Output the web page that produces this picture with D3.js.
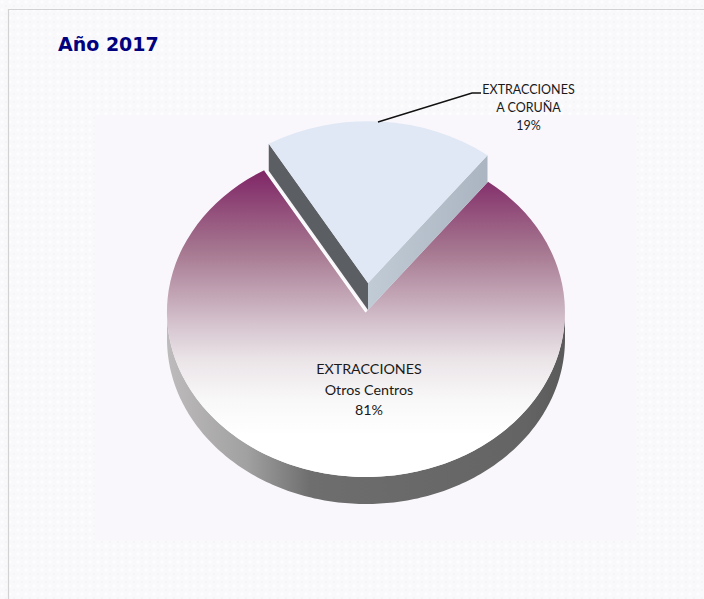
<!DOCTYPE html>
<meta charset="utf-8">
<style>
  html, body { margin: 0; padding: 0; background: #fff; }
  svg { display: block; }
</style>
<script src="https://d3js.org/d3.v7.min.js"></script>
<div id="chart"></div>
<script>
// values
var categories = ["EXTRACCIONES A CORUÑA", "EXTRACCIONES Otros Centros"];
var values = [19, 81];
var sliceLabel = ["EXTRACCIONES", "A CORUÑA", "19%"];
var restLabel = ["EXTRACCIONES", "Otros Centros", "81%"];
var title = "Año 2017";

var width = 704, height = 599;

// pie geometry, flattened circle
var cx = 366, cy = 312, rx = 199, ry = 165, depth = 27;
var explodeX = 2, explodeY = -29, sliceScale = 0.98;
var startDeg = -30.6;

var svg = d3.select("#chart").append("svg")
  .attr("width", width)
  .attr("height", height);

var defs = svg.append("defs");

// dotted page background
var dots = defs.append("pattern")
  .attr("id", "dots")
  .attr("width", 8).attr("height", 8)
  .attr("patternUnits", "userSpaceOnUse");
dots.append("rect").attr("width", 8).attr("height", 8).attr("fill", "#f9f8fa");
dots.append("circle").attr("cx", 2).attr("cy", 2).attr("r", 1.8).attr("fill", "#fdfdfe");
dots.append("circle").attr("cx", 6).attr("cy", 6).attr("r", 1).attr("fill", "#f5f3f6");

function gradient(id, x1, y1, x2, y2, stops) {
  var g = defs.append("linearGradient")
    .attr("id", id)
    .attr("gradientUnits", "userSpaceOnUse")
    .attr("x1", x1).attr("y1", y1).attr("x2", x2).attr("y2", y2);
  stops.forEach(function(s) {
    g.append("stop").attr("offset", s[0]).attr("stop-color", s[1]);
  });
}

// the top path is drawn inside a scaled transform, so y here is in pie units
gradient("topFill", 0, (170 - cy) / ry, 0, (435 - cy) / ry, [
  [0, "#7f2566"], [0.3, "#a5768f"], [0.6, "#d8c8d2"], [0.72, "#ebe5e8"], [0.87, "#f9f8f9"], [1, "#ffffff"]
]);
gradient("wallFill", cx - rx, 0, cx + rx, 0, [
  [0, "#bdbbbc"], [0.2, "#a2a1a2"], [0.36, "#6e6e6e"], [0.9, "#646464"], [1, "#5a5a5a"]
]);
gradient("rightFace", 368, 0, 487, 0, [[0, "#c0cbd6"], [1, "#aab5c1"]]);

// background and frame
svg.append("rect").attr("width", width).attr("height", height).attr("fill", "url(#dots)");
svg.append("rect").attr("x", 95).attr("y", 115).attr("width", 541).attr("height", 425).attr("fill", "#faf7fc");
svg.append("path").attr("d", "M8.5," + height + "V9.5H" + width)
  .attr("fill", "none").attr("stroke", "#d2d2d2").attr("stroke-width", 1.2);

var pie = d3.pie().sort(null)
  .startAngle(startDeg * Math.PI / 180)
  .endAngle((startDeg + 360) * Math.PI / 180);
var arcs = pie(values);
var slice = arcs[0], rest = arcs[1];

var sx = d3.scaleLinear().domain([-1, 1]).range([cx - rx, cx + rx]);
var sy = d3.scaleLinear().domain([-1, 1]).range([cy - ry, cy + ry]);

function px(a) { return sx(Math.sin(a)); }
function py(a) { return sy(-Math.cos(a)); }

// side wall of the big piece, only the front half shows
var front = d3.range(90, 270.5, 1).map(function(d) { return d * Math.PI / 180; });
var wall = d3.line()(
  front.map(function(a) { return [px(a), py(a)]; })
    .concat(front.slice().reverse().map(function(a) { return [px(a), py(a) + depth]; }))
);
svg.append("path").attr("d", wall).attr("fill", "url(#wallFill)");

// top of the big piece
var arc = d3.arc().innerRadius(0).outerRadius(1);
svg.append("path")
  .attr("d", arc(rest))
  .attr("transform", "translate(" + cx + "," + cy + ") scale(" + rx + "," + ry + ")")
  .attr("fill", "url(#topFill)");

// white edge of the notch
svg.append("path")
  .attr("d", d3.line()([[px(rest.endAngle), py(rest.endAngle)], [cx, cy]]))
  .attr("fill", "none").attr("stroke", "#fff").attr("stroke-width", 1.5);

// pulled out piece: two cut faces and its top
var apex = [cx + explodeX, cy + explodeY];
function rim(a) {
  return [apex[0] + (px(a) - cx) * sliceScale, apex[1] + (py(a) - cy) * sliceScale];
}
var left = rim(slice.startAngle);
var right = rim(slice.endAngle);
function face(p) {
  return d3.line()([p, apex, [apex[0], apex[1] + depth], [p[0], p[1] + depth]]) + "Z";
}
svg.append("path").attr("d", face(left)).attr("fill", "#5b5e62");
svg.append("path").attr("d", face(right)).attr("fill", "url(#rightFace)");
svg.append("path")
  .attr("d", arc(slice))
  .attr("transform", "translate(" + apex[0] + "," + apex[1] + ") scale(" + rx * sliceScale + "," + ry * sliceScale + ")")
  .attr("fill", "#dfe8f4");

// leader line
svg.append("path")
  .attr("d", d3.line()([[378, 122], [472, 93], [481, 93]]))
  .attr("fill", "none").attr("stroke", "#111").attr("stroke-width", 1.4);

// labels
svg.append("text")
  .attr("x", 58).attr("y", 51)
  .attr("font-family", "'Comic Sans MS', 'DejaVu Sans', sans-serif")
  .attr("font-weight", "bold").attr("font-size", 19)
  .attr("fill", "#00007f")
  .text(title);

function block(lines, x, y, size, step) {
  svg.append("g").selectAll("text").data(lines).enter().append("text")
    .attr("x", x)
    .attr("y", function(d, i) { return y + i * step; })
    .attr("text-anchor", "middle")
    .attr("font-family", "Lato, 'Open Sans', sans-serif")
    .attr("font-size", size)
    .attr("fill", "#1a1a1a")
    .text(function(d) { return d; });
}
block(sliceLabel, 528.5, 94, 12.5, 18);
block(restLabel, 369, 374, 14.3, 20.5);
</script>
